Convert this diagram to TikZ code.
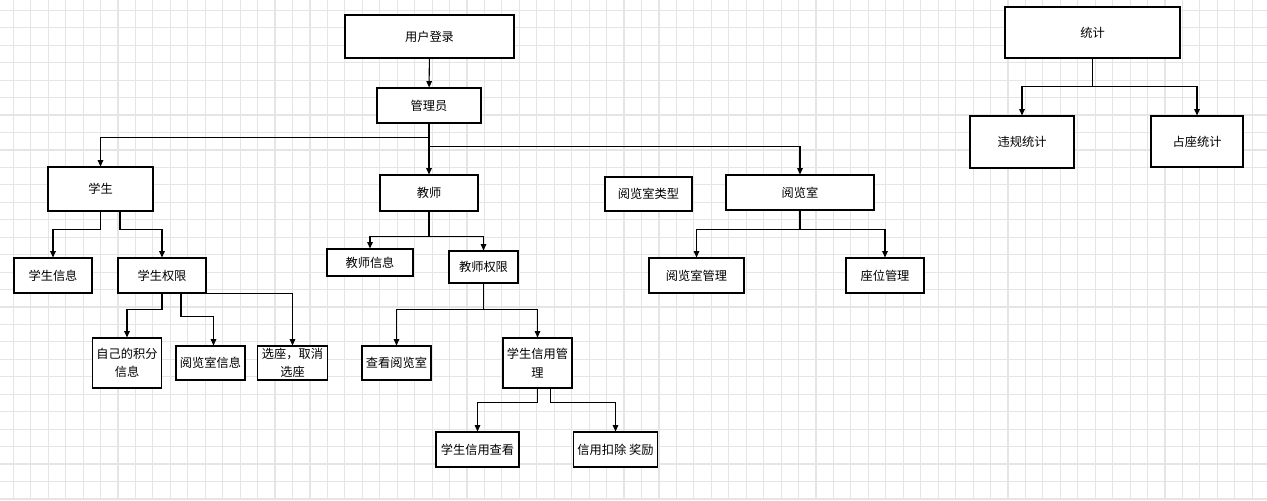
\documentclass[tikz,border=0pt]{standalone}
\usepackage{fontspec}
\newfontfamily\cjk{Noto Sans CJK SC}
\usetikzlibrary{arrows.meta,calc}
\tikzset{
  box/.style 2 args={draw, line width=0.75pt, fill=white, minimum width=#1*0.025cm, minimum height=#2*0.025cm, inner sep=0pt, align=center, font=\cjk\fontsize{8.7}{13}\selectfont},
  link/.style={line width=0.75pt, -{Triangle[length=1.6mm,width=1.4mm]}}
}

\begin{document}
\begin{tikzpicture}[x=0.025cm, y=-0.025cm]
			%%%%% START %%%%%
			
			\useasboundingbox (0, 0) rectangle (1267, 500);
			\fill[white] (0, 0) rectangle (1267, 500);
			\foreach \gx in {0,...,72}
				\draw[line width=0.8pt, color=black!10] ({13.3+17.45*\gx}, 0) -- ({13.3+17.45*\gx}, 500);
			\foreach \gy in {0,...,28}
				\draw[line width=0.8pt, color=black!10] (0, {10.35+17.45*\gy}) -- (1267, {10.35+17.45*\gy});
			
			\node[box={169}{43}] (login) at (429.5, 36.5) {用户登录};
			\node[box={104}{35}] (admin) at (429, 105.5) {管理员};
			
			\node[box={105}{44}] (stu) at (100.5, 189) {学生};
			\node[box={98}{36}] (tea) at (429, 193) {教师};
			\node[box={87}{34}] (rtype) at (648.5, 194) {阅览室类型};
			\node[box={148}{35}] (room) at (800, 192.5) {阅览室};
			
			\node[box={78}{35}] (stuinfo) at (53, 275.5) {学生信息};
			\node[box={88}{35}] (stuperm) at (162, 275.5) {学生权限};
			\node[box={86}{27}] (teainfo) at (370, 262.5) {教师信息};
			\node[box={69}{32}] (teaperm) at (483.5, 267) {教师权限};
			\node[box={95}{35}] (roommgr) at (696.5, 275.5) {阅览室管理};
			\node[box={78}{35}] (seatmgr) at (885, 275.5) {座位管理};
			
			\node[box={69}{50}] (score) at (127, 363) {自己的积分\\信息};
			\node[box={69}{34}] (roominfo) at (210.5, 363) {阅览室信息};
			\node[box={70}{34}] (seat) at (292.5, 363) {选座，取消\\选座};
			\node[box={69}{34}] (view) at (396.5, 363) {查看阅览室};
			\node[box={69}{50}] (credit) at (537.5, 363) {学生信用管\\理};
			
			\node[box={83}{35}] (crview) at (477.5, 449.5) {学生信用查看};
			\node[box={84}{35}] (crdeduct) at (615.5, 449.5) {信用扣除 奖励};
			
			\node[box={175}{51}] (stat) at (1092.5, 32.5) {统计};
			\node[box={104}{52}] (viol) at (1022, 142) {违规统计};
			\node[box={92}{51}] (occ) at (1197, 141.5) {占座统计};
			
			\draw[link] (login) -- (admin);
			\draw[link] (admin.south) -- ++(0, 14) -| (stu.north);
			\draw[link] (admin.south) -- (tea.north);
			\draw[link] (admin.south) -- ++(0, 23) -| (room.north);
			
			\draw[link] (stu.south) -- ++(0, 18) -| (stuinfo.north);
			\draw[link] ($(stu.south)+(19.5, 0)$) -- ++(0, 18) -| (stuperm.north);
			
			\draw[link] (tea.south) -- ++(0, 25) -| (teainfo.north);
			\draw[link] (tea.south) -- ++(0, 25) -| (teaperm.north);
			
			\draw[link] (room.south) -- ++(0, 19) -| (roommgr.north);
			\draw[link] (room.south) -- ++(0, 19) -| (seatmgr.north);
			
			\draw[link] (stuperm.south) -- ++(0, 15.5) -| (score.north);
			\draw[link] ($(stuperm.south)+(19, 0)$) -- ++(0, 23) -| ($(roominfo.north)+(3, 0)$);
			\draw[link] (stuperm.south east) -| (seat.north);
			
			\draw[link] (teaperm.south) -- ++(0, 26) -| (view.north);
			\draw[link] (teaperm.south) -- ++(0, 26) -| (credit.north);
			
			\draw[link] (credit.south) -- ++(0, 14) -| (crview.north);
			\draw[link] ($(credit.south)+(13, 0)$) -- ++(0, 14) -| (crdeduct.north);
			
			\draw[link] (stat.south) -- ++(0, 28) -| (viol.north);
			\draw[link] (stat.south) -- ++(0, 28) -| (occ.north);
			
			%%%%% END %%%%%
\end{tikzpicture}
\end{document}
